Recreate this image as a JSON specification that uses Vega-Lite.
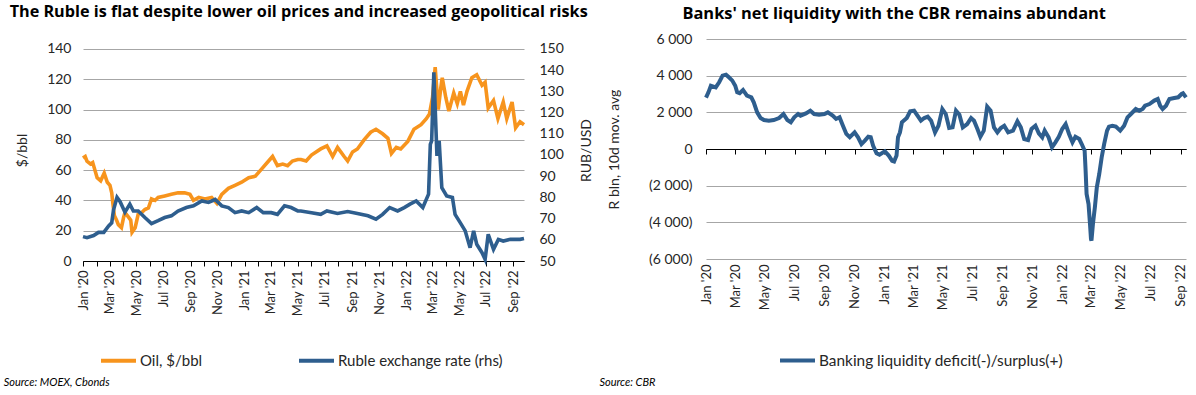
{
  "$schema": "https://vega.github.io/schema/vega-lite/v6.json",
  "background": "white",
  "padding": {"left": 3, "top": 3, "right": 8, "bottom": 2},
  "spacing": 5,
  "resolve": {"scale": {"color": "independent"}, "legend": {"color": "independent"}},
  "config": {
    "font": "Lato",
    "view": {"stroke": null},
    "axis": {"labelColor": "#262626", "titleColor": "#262626", "labelFontSize": 14, "titleFontSize": 14, "titleFontWeight": "normal"},
    "title": {"color": "#000000"}
  },
  "datasets": {
    "oil": [
      {"date": "2020/01/01", "value": 68}, {"date": "2020/01/06", "value": 69}, {"date": "2020/01/10", "value": 66}, {"date": "2020/01/18", "value": 64}, {"date": "2020/01/23", "value": 65},
      {"date": "2020/02/02", "value": 55}, {"date": "2020/02/10", "value": 53}, {"date": "2020/02/18", "value": 58}, {"date": "2020/02/25", "value": 52}, {"date": "2020/03/02", "value": 50},
      {"date": "2020/03/06", "value": 45}, {"date": "2020/03/09", "value": 37}, {"date": "2020/03/12", "value": 30}, {"date": "2020/03/17", "value": 27}, {"date": "2020/03/21", "value": 24},
      {"date": "2020/03/28", "value": 22}, {"date": "2020/04/02", "value": 29}, {"date": "2020/04/05", "value": 32}, {"date": "2020/04/13", "value": 29}, {"date": "2020/04/18", "value": 27},
      {"date": "2020/04/21", "value": 19}, {"date": "2020/04/28", "value": 22}, {"date": "2020/05/05", "value": 31}, {"date": "2020/05/13", "value": 32}, {"date": "2020/05/20", "value": 34},
      {"date": "2020/05/28", "value": 35}, {"date": "2020/06/04", "value": 41}, {"date": "2020/06/12", "value": 40}, {"date": "2020/06/19", "value": 42}, {"date": "2020/07/04", "value": 43},
      {"date": "2020/07/19", "value": 44}, {"date": "2020/08/03", "value": 45}, {"date": "2020/08/18", "value": 45}, {"date": "2020/08/30", "value": 44}, {"date": "2020/09/07", "value": 40},
      {"date": "2020/09/19", "value": 42}, {"date": "2020/10/03", "value": 41}, {"date": "2020/10/18", "value": 42}, {"date": "2020/10/30", "value": 38}, {"date": "2020/11/10", "value": 44},
      {"date": "2020/11/25", "value": 48}, {"date": "2020/12/10", "value": 50}, {"date": "2020/12/25", "value": 52}, {"date": "2021/01/10", "value": 55}, {"date": "2021/01/25", "value": 56},
      {"date": "2021/02/09", "value": 61}, {"date": "2021/02/24", "value": 66}, {"date": "2021/03/05", "value": 69}, {"date": "2021/03/16", "value": 63}, {"date": "2021/03/28", "value": 64},
      {"date": "2021/04/08", "value": 63}, {"date": "2021/04/19", "value": 66}, {"date": "2021/05/01", "value": 67}, {"date": "2021/05/08", "value": 67}, {"date": "2021/05/20", "value": 66},
      {"date": "2021/06/01", "value": 70}, {"date": "2021/06/22", "value": 74}, {"date": "2021/07/06", "value": 76}, {"date": "2021/07/19", "value": 69}, {"date": "2021/07/30", "value": 75},
      {"date": "2021/08/14", "value": 69}, {"date": "2021/08/22", "value": 66}, {"date": "2021/09/02", "value": 72}, {"date": "2021/09/13", "value": 74}, {"date": "2021/09/28", "value": 80},
      {"date": "2021/10/13", "value": 85}, {"date": "2021/10/25", "value": 87}, {"date": "2021/11/09", "value": 84}, {"date": "2021/11/21", "value": 81}, {"date": "2021/11/29", "value": 71},
      {"date": "2021/12/10", "value": 75}, {"date": "2021/12/20", "value": 74}, {"date": "2022/01/05", "value": 79}, {"date": "2022/01/19", "value": 87}, {"date": "2022/02/04", "value": 90},
      {"date": "2022/02/16", "value": 94}, {"date": "2022/02/23", "value": 97}, {"date": "2022/03/02", "value": 108}, {"date": "2022/03/08", "value": 128}, {"date": "2022/03/15", "value": 100},
      {"date": "2022/03/21", "value": 115}, {"date": "2022/03/24", "value": 121}, {"date": "2022/04/01", "value": 108}, {"date": "2022/04/08", "value": 99}, {"date": "2022/04/19", "value": 111},
      {"date": "2022/04/27", "value": 104}, {"date": "2022/05/04", "value": 112}, {"date": "2022/05/11", "value": 103}, {"date": "2022/05/19", "value": 112}, {"date": "2022/05/30", "value": 121},
      {"date": "2022/06/10", "value": 123}, {"date": "2022/06/22", "value": 116}, {"date": "2022/06/29", "value": 118}, {"date": "2022/07/06", "value": 101}, {"date": "2022/07/18", "value": 106},
      {"date": "2022/07/28", "value": 94}, {"date": "2022/08/09", "value": 105}, {"date": "2022/08/17", "value": 94}, {"date": "2022/08/29", "value": 105}, {"date": "2022/09/06", "value": 88},
      {"date": "2022/09/16", "value": 92}, {"date": "2022/09/25", "value": 90}
    ],
    "rub": [
      {"date": "2020/01/01", "value": 61.5}, {"date": "2020/01/10", "value": 61}, {"date": "2020/01/25", "value": 62}, {"date": "2020/02/05", "value": 63.5}, {"date": "2020/02/17", "value": 63.5},
      {"date": "2020/02/28", "value": 66.5}, {"date": "2020/03/06", "value": 68}, {"date": "2020/03/10", "value": 74}, {"date": "2020/03/18", "value": 80}, {"date": "2020/03/25", "value": 78},
      {"date": "2020/04/05", "value": 73}, {"date": "2020/04/16", "value": 76.8}, {"date": "2020/04/24", "value": 73.6}, {"date": "2020/05/05", "value": 73.6}, {"date": "2020/05/20", "value": 70.5},
      {"date": "2020/06/04", "value": 67.6}, {"date": "2020/06/19", "value": 69}, {"date": "2020/07/04", "value": 70.5}, {"date": "2020/07/19", "value": 71.3}, {"date": "2020/08/03", "value": 73.6},
      {"date": "2020/08/22", "value": 75.2}, {"date": "2020/09/07", "value": 76}, {"date": "2020/09/26", "value": 78.3}, {"date": "2020/10/11", "value": 77.6}, {"date": "2020/10/26", "value": 79},
      {"date": "2020/11/10", "value": 76}, {"date": "2020/11/25", "value": 75.2}, {"date": "2020/12/10", "value": 72.8}, {"date": "2020/12/25", "value": 73.6}, {"date": "2021/01/10", "value": 72.8},
      {"date": "2021/01/28", "value": 75.2}, {"date": "2021/02/12", "value": 72.8}, {"date": "2021/03/02", "value": 72.8}, {"date": "2021/03/16", "value": 72}, {"date": "2021/04/01", "value": 76},
      {"date": "2021/04/16", "value": 75.2}, {"date": "2021/05/01", "value": 73.6}, {"date": "2021/05/08", "value": 73.6}, {"date": "2021/06/01", "value": 72.8}, {"date": "2021/06/22", "value": 72},
      {"date": "2021/07/06", "value": 73.6}, {"date": "2021/07/30", "value": 72.4}, {"date": "2021/08/22", "value": 73.3}, {"date": "2021/09/13", "value": 72.4}, {"date": "2021/10/07", "value": 71.3},
      {"date": "2021/10/25", "value": 69.7}, {"date": "2021/11/09", "value": 72}, {"date": "2021/11/25", "value": 75.2}, {"date": "2021/12/13", "value": 73.6}, {"date": "2021/12/28", "value": 75.2},
      {"date": "2022/01/10", "value": 76.8}, {"date": "2022/01/24", "value": 78.3}, {"date": "2022/02/08", "value": 75.2}, {"date": "2022/02/21", "value": 81.5}, {"date": "2022/02/25", "value": 105},
      {"date": "2022/02/28", "value": 106.7}, {"date": "2022/03/05", "value": 139}, {"date": "2022/03/12", "value": 99.6}, {"date": "2022/03/17", "value": 106.7}, {"date": "2022/03/23", "value": 84.6},
      {"date": "2022/04/03", "value": 80.7}, {"date": "2022/04/16", "value": 80}, {"date": "2022/04/22", "value": 72}, {"date": "2022/05/04", "value": 68}, {"date": "2022/05/15", "value": 64.2},
      {"date": "2022/05/26", "value": 56.3}, {"date": "2022/06/03", "value": 64.2}, {"date": "2022/06/10", "value": 57.9}, {"date": "2022/06/22", "value": 53.9}, {"date": "2022/06/29", "value": 50.8},
      {"date": "2022/07/06", "value": 62.6}, {"date": "2022/07/18", "value": 55.5}, {"date": "2022/07/29", "value": 60.2}, {"date": "2022/08/09", "value": 59.4}, {"date": "2022/08/25", "value": 60.2},
      {"date": "2022/09/16", "value": 60.2}, {"date": "2022/09/25", "value": 60.6}
    ],
    "liq": [
      {"date": "2020/01/01", "value": 2800}, {"date": "2020/01/06", "value": 3090}, {"date": "2020/01/11", "value": 3450}, {"date": "2020/01/21", "value": 3360}, {"date": "2020/01/28", "value": 3640},
      {"date": "2020/02/04", "value": 4000}, {"date": "2020/02/11", "value": 4055}, {"date": "2020/02/17", "value": 3910}, {"date": "2020/02/24", "value": 3730}, {"date": "2020/03/01", "value": 3450},
      {"date": "2020/03/05", "value": 3090}, {"date": "2020/03/10", "value": 3040}, {"date": "2020/03/17", "value": 3220}, {"date": "2020/03/25", "value": 2910}, {"date": "2020/04/03", "value": 2820},
      {"date": "2020/04/08", "value": 2545}, {"date": "2020/04/15", "value": 2000}, {"date": "2020/04/22", "value": 1690}, {"date": "2020/04/29", "value": 1580}, {"date": "2020/05/09", "value": 1545},
      {"date": "2020/05/19", "value": 1580}, {"date": "2020/05/30", "value": 1690}, {"date": "2020/06/08", "value": 1910}, {"date": "2020/06/16", "value": 1580}, {"date": "2020/06/23", "value": 1455},
      {"date": "2020/06/30", "value": 1730}, {"date": "2020/07/08", "value": 1910}, {"date": "2020/07/13", "value": 1820}, {"date": "2020/07/24", "value": 1945}, {"date": "2020/08/02", "value": 2090},
      {"date": "2020/08/10", "value": 1910}, {"date": "2020/08/20", "value": 1870}, {"date": "2020/08/31", "value": 1910}, {"date": "2020/09/07", "value": 2000}, {"date": "2020/09/17", "value": 1820},
      {"date": "2020/09/24", "value": 1640}, {"date": "2020/10/01", "value": 1730}, {"date": "2020/10/08", "value": 1270}, {"date": "2020/10/15", "value": 820}, {"date": "2020/10/22", "value": 640},
      {"date": "2020/11/01", "value": 910}, {"date": "2020/11/08", "value": 640}, {"date": "2020/11/15", "value": 270}, {"date": "2020/11/22", "value": 455}, {"date": "2020/11/29", "value": 670},
      {"date": "2020/12/04", "value": 640}, {"date": "2020/12/09", "value": 180}, {"date": "2020/12/16", "value": -236}, {"date": "2020/12/22", "value": -310}, {"date": "2021/01/02", "value": -130},
      {"date": "2021/01/10", "value": -360}, {"date": "2021/01/17", "value": -640}, {"date": "2021/01/21", "value": -680}, {"date": "2021/01/26", "value": -360}, {"date": "2021/01/29", "value": 640},
      {"date": "2021/02/02", "value": 900}, {"date": "2021/02/06", "value": 1455}, {"date": "2021/02/16", "value": 1690}, {"date": "2021/02/23", "value": 2055}, {"date": "2021/03/03", "value": 2090},
      {"date": "2021/03/10", "value": 1820}, {"date": "2021/03/17", "value": 1545}, {"date": "2021/03/24", "value": 1690}, {"date": "2021/03/31", "value": 1760}, {"date": "2021/04/07", "value": 1545},
      {"date": "2021/04/15", "value": 910}, {"date": "2021/04/22", "value": 1270}, {"date": "2021/04/30", "value": 2180}, {"date": "2021/05/07", "value": 1910}, {"date": "2021/05/14", "value": 1145},
      {"date": "2021/05/21", "value": 1180}, {"date": "2021/05/28", "value": 2090}, {"date": "2021/06/04", "value": 1870}, {"date": "2021/06/11", "value": 1180}, {"date": "2021/06/20", "value": 1360},
      {"date": "2021/06/28", "value": 1690}, {"date": "2021/07/04", "value": 1545}, {"date": "2021/07/11", "value": 1090}, {"date": "2021/07/17", "value": 670}, {"date": "2021/07/24", "value": 1000},
      {"date": "2021/07/31", "value": 2310}, {"date": "2021/08/07", "value": 2090}, {"date": "2021/08/14", "value": 1180}, {"date": "2021/08/21", "value": 910}, {"date": "2021/08/28", "value": 1145},
      {"date": "2021/09/04", "value": 1270}, {"date": "2021/09/12", "value": 910}, {"date": "2021/09/22", "value": 1000}, {"date": "2021/10/01", "value": 1510}, {"date": "2021/10/08", "value": 1180},
      {"date": "2021/10/15", "value": 545}, {"date": "2021/10/23", "value": 490}, {"date": "2021/10/30", "value": 1090}, {"date": "2021/11/07", "value": 1270}, {"date": "2021/11/14", "value": 855},
      {"date": "2021/11/21", "value": 640}, {"date": "2021/11/26", "value": 1000}, {"date": "2021/12/04", "value": 640}, {"date": "2021/12/11", "value": 90}, {"date": "2021/12/18", "value": 365},
      {"date": "2021/12/25", "value": 670}, {"date": "2022/01/01", "value": 1090}, {"date": "2022/01/08", "value": 1360}, {"date": "2022/01/15", "value": 820}, {"date": "2022/01/22", "value": 365},
      {"date": "2022/01/28", "value": 670}, {"date": "2022/02/05", "value": 545}, {"date": "2022/02/10", "value": 270}, {"date": "2022/02/16", "value": -90}, {"date": "2022/02/18", "value": -1180},
      {"date": "2022/02/20", "value": -2450}, {"date": "2022/02/24", "value": -3000}, {"date": "2022/02/27", "value": -4090}, {"date": "2022/03/01", "value": -4910}, {"date": "2022/03/02", "value": -5000},
      {"date": "2022/03/05", "value": -4090}, {"date": "2022/03/09", "value": -3180}, {"date": "2022/03/13", "value": -2090}, {"date": "2022/03/18", "value": -1360}, {"date": "2022/03/23", "value": -450},
      {"date": "2022/03/28", "value": 270}, {"date": "2022/04/03", "value": 1000}, {"date": "2022/04/07", "value": 1220}, {"date": "2022/04/14", "value": 1270}, {"date": "2022/04/21", "value": 1220},
      {"date": "2022/04/30", "value": 1000}, {"date": "2022/05/08", "value": 1270}, {"date": "2022/05/15", "value": 1730}, {"date": "2022/05/22", "value": 1910}, {"date": "2022/06/01", "value": 2180},
      {"date": "2022/06/08", "value": 2090}, {"date": "2022/06/15", "value": 2180}, {"date": "2022/06/20", "value": 2360}, {"date": "2022/06/29", "value": 2450}, {"date": "2022/07/09", "value": 2640},
      {"date": "2022/07/16", "value": 2730}, {"date": "2022/07/21", "value": 2360}, {"date": "2022/07/26", "value": 2180}, {"date": "2022/08/02", "value": 2360}, {"date": "2022/08/09", "value": 2730},
      {"date": "2022/08/19", "value": 2780}, {"date": "2022/08/27", "value": 2820}, {"date": "2022/09/03", "value": 3000}, {"date": "2022/09/06", "value": 3040}, {"date": "2022/09/12", "value": 2820}
    ]
  },
  "hconcat": [
    {
      "title": {"text": "Source: MOEX, Cbonds", "orient": "bottom", "anchor": "start", "fontSize": 11, "fontStyle": "italic", "fontWeight": "normal", "offset": 8, "dx": -6},
      "vconcat": [
        {
          "title": {"text": "The Ruble is flat despite lower oil prices and  increased geopolitical risks", "font": "Open Sans", "anchor": "start", "fontSize": 16.2, "fontWeight": "bold", "offset": 19, "dx": -6},
          "width": 441,
          "height": 222,
          "layer": [
            {
              "data": {"name": "oil"},
              "mark": {"type": "line", "strokeWidth": 3.6},
              "encoding": {
                "x": {
                  "field": "date", "type": "temporal",
                  "scale": {"domain": [{"year": 2020, "month": 1, "date": 1}, {"year": 2022, "month": 9, "date": 25}]},
                  "axis": {
                    "title": null, "grid": false, "tickCount": {"interval": "month", "step": 1},
                    "labelExpr": "month(datum.value) % 2 == 0 ? timeFormat(datum.value, \"%b '%y\") : ''",
                    "labelAngle": -90, "labelOverlap": false, "labelFlush": false, "labelBound": false,
                    "labelFontSize": 13, "labelPadding": 4, "domainColor": "#000000", "tickColor": "#000000", "tickSize": 5
                  }
                },
                "y": {
                  "field": "value", "type": "quantitative",
                  "scale": {"domain": [0, 146.6], "nice": false},
                  "axis": {
                    "title": "$/bbl", "values": [0, 20, 40, 60, 80, 100, 120, 140], "grid": true,
                    "gridColor": {"condition": {"test": "datum.value === 0", "value": "#000000"}, "value": "#a6a6a6"},
                    "ticks": false, "domain": false, "labelPadding": 12, "titlePadding": 17, "labelOverlap": false
                  }
                },
                "color": {
                  "datum": "Oil, $/bbl",
                  "scale": {"domain": ["Oil, $/bbl", "Ruble exchange rate (rhs)"], "range": ["#F7941D", "#2E5E8E"]},
                  "legend": {
                    "orient": "none", "legendX": 16, "legendY": 302, "direction": "horizontal", "title": null,
                    "symbolType": "stroke", "symbolStrokeWidth": 4, "symbolSize": 1225, "labelFontSize": 15,
                    "labelColor": "#262626", "columnPadding": 88, "labelLimit": 300, "labelOffset": 2
                  }
                }
              }
            },
            {
              "data": {"name": "rub"},
              "mark": {"type": "line", "strokeWidth": 3.6},
              "encoding": {
                "x": {"field": "date", "type": "temporal"},
                "y": {
                  "field": "value", "type": "quantitative",
                  "scale": {"domain": [50, 154.7], "nice": false},
                  "axis": {
                    "orient": "right", "title": "RUB/USD", "values": [50, 60, 70, 80, 90, 100, 110, 120, 130, 140, 150],
                    "grid": false, "ticks": false, "domain": false, "labelPadding": 15, "titlePadding": 30, "titleAngle": 270, "labelOverlap": false
                  }
                },
                "color": {"datum": "Ruble exchange rate (rhs)"}
              }
            }
          ],
          "resolve": {"scale": {"y": "independent"}}
        }
      ]
    },
    {
      "title": {"text": "Source: CBR", "orient": "bottom", "anchor": "start", "fontSize": 11, "fontStyle": "italic", "fontWeight": "normal", "offset": 8, "dx": -8},
      "vconcat": [
        {
          "title": {"text": "Banks' net liquidity with the CBR remains abundant", "font": "Open Sans", "anchor": "start", "fontSize": 16.4, "fontWeight": "bold", "offset": 10, "dx": 75},
          "width": 480,
          "height": 220,
          "data": {"name": "liq"},
          "layer": [
            {
              "mark": {"type": "line", "strokeWidth": 4},
              "encoding": {
                "x": {
                  "field": "date", "type": "temporal",
                  "scale": {"domain": [{"year": 2020, "month": 1, "date": 1}, {"year": 2022, "month": 9, "date": 12}]},
                  "axis": {
                    "orient": "bottom", "title": null, "grid": false, "ticks": false, "domain": false,
                    "tickCount": {"interval": "month", "step": 2}, "format": "%b '%y",
                    "labelAngle": -90, "labelOverlap": false, "labelFlush": false, "labelBound": false,
                    "labelFontSize": 13, "labelPadding": 5
                  }
                },
                "y": {
                  "field": "value", "type": "quantitative",
                  "scale": {"domain": [-6000, 6000], "nice": false},
                  "axis": {
                    "title": "R bln, 10d mov. avg", "values": [-6000, -4000, -2000, 0, 2000, 4000, 6000], "grid": true,
                    "gridColor": {"condition": {"test": "datum.value === 0", "value": "#000000"}, "value": "#a6a6a6"},
                    "ticks": false, "domain": false, "labelPadding": 14, "titlePadding": 27, "labelOverlap": false,
                    "labelExpr": "datum.value < 0 ? '(' + replace(format(-datum.value, ','), ',', ' ') + ')' : replace(format(datum.value, ','), ',', ' ') + '\u2005'"
                  }
                },
                "color": {
                  "datum": "Banking liquidity deficit(-)/surplus(+)",
                  "scale": {"range": ["#2E5E8E"]},
                  "legend": {
                    "orient": "none", "legendX": 72, "legendY": 302, "direction": "horizontal", "title": null,
                    "symbolType": "stroke", "symbolStrokeWidth": 4, "symbolSize": 1225, "labelFontSize": 15.4,
                    "labelColor": "#262626", "labelLimit": 400, "labelOffset": 2
                  }
                }
              }
            },
            {
              "mark": {"type": "rule", "strokeOpacity": 0},
              "encoding": {
                "x": {
                  "field": "date", "type": "temporal",
                  "axis": {
                    "orient": "bottom", "offset": -110, "title": null, "labels": false, "grid": false,
                    "ticks": true, "domain": true, "tickCount": {"interval": "month", "step": 2},
                    "domainColor": "#000000", "tickColor": "#000000", "tickSize": 5
                  }
                }
              }
            }
          ],
          "resolve": {"axis": {"x": "independent"}}
        }
      ]
    }
  ]
}
